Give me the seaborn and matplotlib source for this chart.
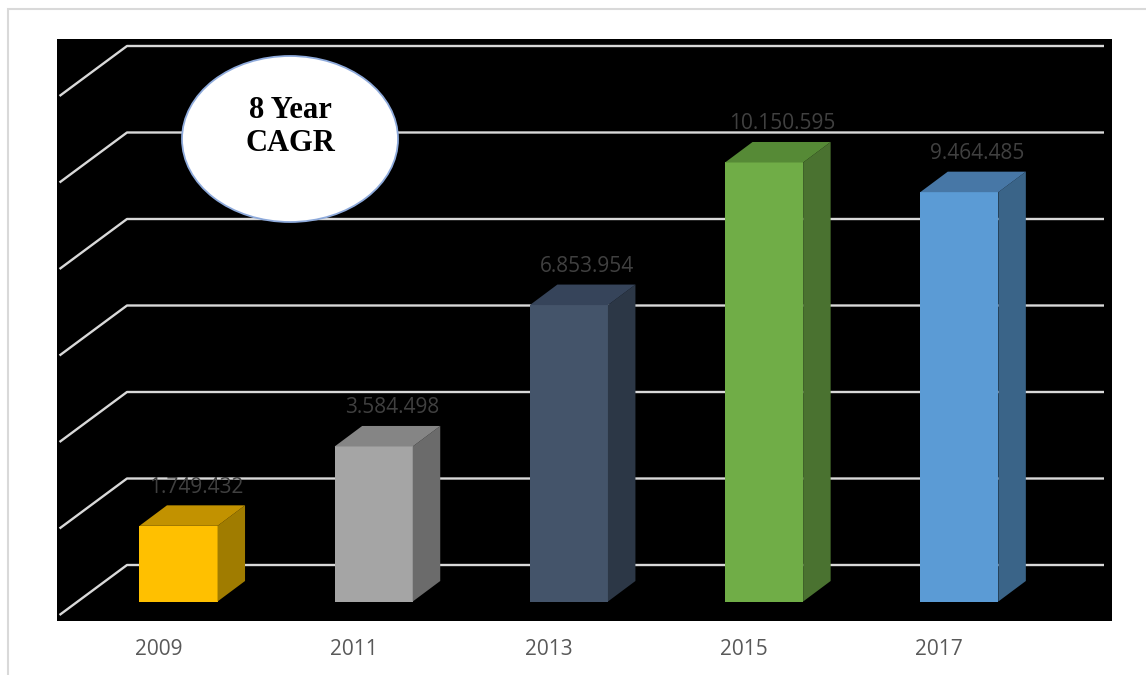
import numpy as np
import pandas as pd
import seaborn as sns
import matplotlib
matplotlib.use("Agg")
import matplotlib.pyplot as plt
from matplotlib.patches import Polygon, Ellipse, Rectangle
from matplotlib.transforms import ScaledTranslation

# ---- data ----
years = ["2009", "2011", "2013", "2015", "2017"]
values = [1749432, 3584498, 6853954, 10150595, 9464485]
front_colors = ["#FFC000", "#A5A5A5", "#44546A", "#70AD47", "#5B9BD5"]
side_colors = ["#A07C00", "#6B6B6B", "#2C3746", "#4A7230", "#3A6488"]
top_colors = ["#C29200", "#858585", "#36445A", "#568A36", "#4777A6"]
grid_values = [0, 2_000_000, 4_000_000, 6_000_000, 8_000_000, 10_000_000, 12_000_000]
badge_text = "8 Year\nCAGR"

df = pd.DataFrame({"year": years, "value": values})

W, H, DPI = 1146, 675, 100
fig = plt.figure(figsize=(W / DPI, H / DPI), dpi=DPI, facecolor="white")

# plot area (pixel box of the dark panel)
px_l, px_r, px_t, px_b = 57, 1112, 39, 621
ax = fig.add_axes([px_l / W, (H - px_b) / H, (px_r - px_l) / W, (px_b - px_t) / H])
ax.set_facecolor("black")

# scale: one category step in pixels, pixels per unit value
step_px = 195.2
unit_px = 43.25 / 1e6
x0_px = 178.5      # centre of the first bar
base_px = 601.5    # bar base (front plane)

# depth of the bars and of the floor, in data units
bar_dx, bar_dy = 27.5 / step_px, 20.5 / unit_px
wall_x0, wall_x1 = (127 - x0_px) / step_px, (1104 - x0_px) / step_px
wall_dy = (base_px - 565) / unit_px
floor_x = (59.5 - x0_px) / step_px
floor_dy = -(615 - base_px) / unit_px

# perspective gridlines: back wall + diagonal along the side wall
grid_kw = dict(color="#D9D9D9", lw=1.7, solid_capstyle="butt", zorder=1)
for g in grid_values:
    ax.plot([floor_x, wall_x0, wall_x1], [g + floor_dy, g + wall_dy, g + wall_dy], **grid_kw)

# front faces of the bars
sns.barplot(data=df, x="year", y="value", hue="year", palette=front_colors,
            width=0.4, saturation=1, legend=False, linewidth=0, ax=ax, zorder=3)

# limits after seaborn has set its own categorical limits
ax.set_xlim((px_l - x0_px) / step_px, (px_r - x0_px) / step_px)
ax.set_ylim(-(px_b - base_px) / unit_px, (base_px - px_t) / unit_px)

# side and top faces for the 3-D look, plus value labels
for p, sc, tc, v in zip(ax.patches, side_colors, top_colors, values):
    x0, w, h = p.get_x(), p.get_width(), p.get_height()
    x1 = x0 + w
    side = [(x1, 0), (x1 + bar_dx, bar_dy), (x1 + bar_dx, h + bar_dy), (x1, h)]
    top = [(x0, h), (x0 + bar_dx, h + bar_dy), (x1 + bar_dx, h + bar_dy), (x1, h)]
    ax.add_patch(Polygon(side, closed=True, facecolor=sc, edgecolor="none", zorder=3))
    ax.add_patch(Polygon(top, closed=True, facecolor=tc, edgecolor="none", zorder=3))
    ax.annotate(f"{v:,}".replace(",", "."), xy=(x0 + w / 2, h),
                xytext=(18 * 0.72, 33 * 0.72), textcoords="offset points",
                ha="center", va="baseline", fontsize=15, family="Open Sans",
                color="#404040", zorder=5)

# axes cosmetics
for s in ax.spines.values():
    s.set_visible(False)
ax.set_yticks([])
ax.set_xlabel("")
ax.set_ylabel("")
ax.tick_params(axis="x", length=0, pad=13, labelsize=15, labelcolor="#595959")
for lab in ax.get_xticklabels():
    lab.set_family("Open Sans")
    lab.set_transform(lab.get_transform() + ScaledTranslation(-20 / DPI, 0, fig.dpi_scale_trans))

# badge
cx, cy = 290, 139
ax.add_patch(Ellipse(((cx - px_l) / (px_r - px_l), (px_b - cy) / (px_b - px_t)),
                     216 / (px_r - px_l), 166 / (px_b - px_t), transform=ax.transAxes,
                     facecolor="white", edgecolor="#8EAADB", lw=1.3, zorder=6))
ax.text((cx - px_l) / (px_r - px_l), (px_b - 127) / (px_b - px_t), badge_text,
        transform=ax.transAxes, ha="center", va="center", fontsize=22,
        fontweight="bold", family="Liberation Serif", linespacing=1.22,
        color="black", zorder=7)

# light frame around the chart
fig.patches.append(Rectangle((8 / W, -0.1), 1.0, (H - 9) / H + 0.1,
                             transform=fig.transFigure, fill=False,
                             edgecolor="#D9D9D9", lw=1.5))

fig.savefig("out.png", dpi=DPI, facecolor="white")
